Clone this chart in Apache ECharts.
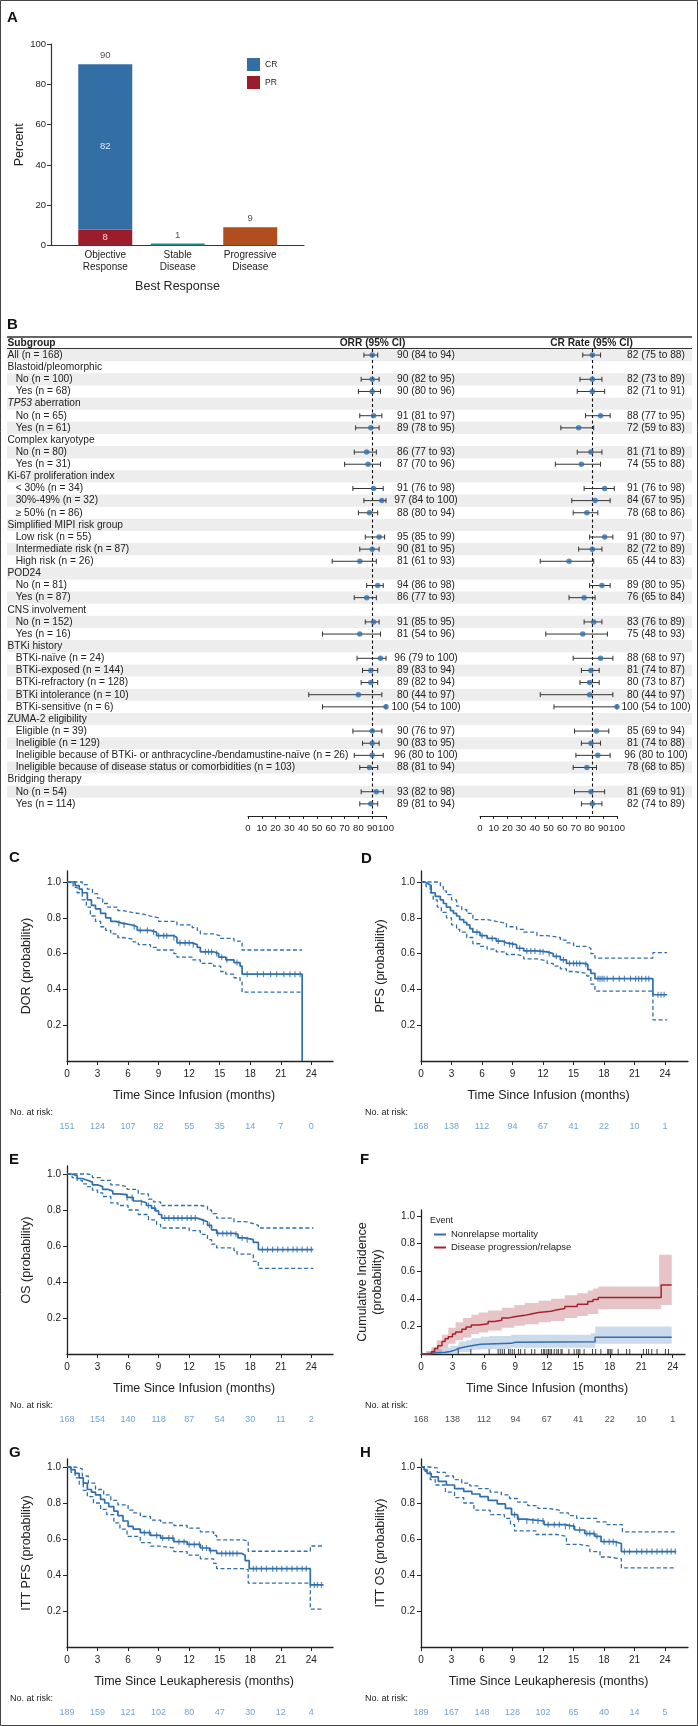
<!DOCTYPE html>
<html lang="en">
<head>
<meta charset="UTF-8">
<title>Response, DOR, PFS, OS and cumulative incidence</title>
<script src="https://cdn.jsdelivr.net/npm/echarts@6.0.0/dist/echarts.min.js"></script>
<style>
  html, body { margin: 0; padding: 0; background: #fff; }
  #chart { width: 698px; height: 1726px; }
</style>
</head>
<body>
<div id="chart"></div>
<script>
// ---------- data: panel A ----------
const responseCats = ['Objective\nResponse', 'Stable\nDisease', 'Progressive\nDisease'];
const prValues = [8, '-', '-'];
const crValues = [82, '-', '-'];
const otherValues = ['-', 1, 9];
const totalValues = [90, 1, 9];

// ---------- data: panel B (forest) ----------
const rowLabels = [
  'All (n = 168)', 'Blastoid/pleomorphic', 'No (n = 100)', 'Yes (n = 68)',
  'TP53 aberration', 'No (n = 65)', 'Yes (n = 61)',
  'Complex karyotype', 'No (n = 80)', 'Yes (n = 31)',
  'Ki-67 proliferation index', '< 30% (n = 34)', '30%-49% (n = 32)', '\u2265 50% (n = 86)',
  'Simplified MIPI risk group', 'Low risk (n = 55)', 'Intermediate risk (n = 87)', 'High risk (n = 26)',
  'POD24', 'No (n = 81)', 'Yes (n = 87)',
  'CNS involvement', 'No (n = 152)', 'Yes (n = 16)',
  'BTKi history', 'BTKi-na\u00efve (n = 24)', 'BTKi-exposed (n = 144)', 'BTKi-refractory (n = 128)',
  'BTKi intolerance (n = 10)', 'BTKi-sensitive (n = 6)',
  'ZUMA-2 eligibility', 'Eligible (n = 39)', 'Ineligible (n = 129)',
  'Ineligible because of BTKi- or anthracycline-/bendamustine-na\u00efve (n = 26)',
  'Ineligible because of disease status or comorbidities (n = 103)',
  'Bridging therapy', 'No (n = 54)', 'Yes (n = 114)'
];
const rowLevel = [0,0,1,1, 0,1,1, 0,1,1, 0,1,1,1, 0,1,1,1, 0,1,1, 0,1,1, 0,1,1,1,1,1, 0,1,1,1,1, 0,1,1];
const N = null;
const orrEst = [90,N,90,90, N,91,89, N,86,87, N,91,97,88, N,95,90,81, N,94,86, N,91,81, N,96,89,89,80,100, N,90,90,90,88, N,93,89];
const orrLo  = [84,N,82,80, N,81,78, N,77,70, N,76,84,80, N,85,81,61, N,86,77, N,85,54, N,79,83,82,44,54,  N,76,83,77,81, N,82,81];
const orrHi  = [94,N,95,96, N,97,95, N,93,96, N,98,100,94, N,99,95,93, N,98,93, N,95,96, N,100,94,94,97,100, N,97,95,98,94, N,98,94];
const orrText = ['90 (84 to 94)',N,'90 (82 to 95)','90 (80 to 96)', N,'91 (81 to 97)','89 (78 to 95)',
  N,'86 (77 to 93)','87 (70 to 96)', N,'91 (76 to 98)','97 (84 to 100)','88 (80 to 94)',
  N,'95 (85 to 99)','90 (81 to 95)','81 (61 to 93)', N,'94 (86 to 98)','86 (77 to 93)',
  N,'91 (85 to 95)','81 (54 to 96)', N,'96 (79 to 100)','89 (83 to 94)','89 (82 to 94)','80 (44 to 97)','100 (54 to 100)',
  N,'90 (76 to 97)','90 (83 to 95)','96 (80 to 100)','88 (81 to 94)', N,'93 (82 to 98)','89 (81 to 94)'];
const crEst = [82,N,82,82, N,88,72, N,81,74, N,91,84,78, N,91,82,65, N,89,76, N,83,75, N,88,81,80,80,100, N,85,81,86,78, N,81,82];
const crLo  = [75,N,73,71, N,77,59, N,71,55, N,76,67,68, N,80,72,44, N,80,65, N,76,48, N,68,74,73,44,54,  N,69,74,70,68, N,69,74];
const crHi  = [88,N,89,91, N,95,83, N,89,88, N,98,95,86, N,97,89,83, N,95,84, N,89,93, N,97,87,87,97,100, N,94,88,95,85, N,91,89];
const crText = ['82 (75 to 88)',N,'82 (73 to 89)','82 (71 to 91)', N,'88 (77 to 95)','72 (59 to 83)',
  N,'81 (71 to 89)','74 (55 to 88)', N,'91 (76 to 98)','84 (67 to 95)','78 (68 to 86)',
  N,'91 (80 to 97)','82 (72 to 89)','65 (44 to 83)', N,'89 (80 to 95)','76 (65 to 84)',
  N,'83 (76 to 89)','75 (48 to 93)', N,'88 (68 to 97)','81 (74 to 87)','80 (73 to 87)','80 (44 to 97)','100 (54 to 100)',
  N,'85 (69 to 94)','81 (74 to 88)','96 (80 to 100)','78 (68 to 85)', N,'81 (69 to 91)','82 (74 to 89)'];
const orrRef = 90;
const crRef = 82;

// ---------- data: KM panels ----------
const kmTicks = [0, 3, 6, 9, 12, 15, 18, 21, 24];
const probTicks = [0.2, 0.4, 0.6, 0.8, 1.0];

const dorEst = [[0,1],[0.8,0.98],[1.2,0.96],[1.5,0.94],[2.0,0.9],[2.4,0.87],[2.8,0.85],[3.3,0.825],[3.8,0.8],[4.3,0.78],[4.8,0.77],[5.4,0.76],[6.4,0.75],[6.9,0.73],[8.2,0.72],[8.8,0.7],[10.5,0.69],[10.8,0.66],[12.3,0.65],[12.8,0.635],[13.1,0.61],[14.4,0.6],[14.9,0.58],[15.6,0.565],[16.4,0.55],[17.0,0.53],[17.2,0.485],[23.1,0]];
const dorHi = [[0,1],[1.5,0.985],[2.0,0.96],[2.5,0.935],[3.0,0.91],[3.5,0.88],[4.0,0.86],[5.0,0.84],[5.5,0.83],[6.4,0.82],[7.5,0.81],[8.2,0.8],[9.0,0.78],[10.8,0.76],[12.3,0.745],[12.8,0.73],[13.1,0.71],[14.4,0.7],[15.0,0.685],[16.4,0.67],[17.2,0.62],[23.1,0.62]];
const dorLo = [[0,1],[0.6,0.97],[1.0,0.94],[1.5,0.9],[1.9,0.86],[2.3,0.81],[2.8,0.78],[3.3,0.75],[3.8,0.73],[4.3,0.71],[5.0,0.69],[5.5,0.68],[6.5,0.665],[7.0,0.65],[8.2,0.635],[8.8,0.62],[10.5,0.6],[10.8,0.58],[12.3,0.565],[13.1,0.545],[14.4,0.53],[15.1,0.5],[15.6,0.485],[16.4,0.465],[17.0,0.445],[17.2,0.385],[23.1,0.385]];
const dorCensor = [5.1,5.6,6.6,7.2,7.9,8.5,9.0,9.5,9.8,10.5,11.1,11.6,12.0,12.4,13.6,13.9,14.2,14.7,15.2,15.7,16.7,17.7,18.7,19.3,20.0,20.6,21.3,21.9,22.4,22.9];
const dorRisk = [151, 124, 107, 82, 55, 35, 14, 7, 0];

const pfsEst = [[0,1],[0.4,0.99],[0.7,0.98],[1.0,0.94],[1.4,0.92],[1.9,0.9],[2.2,0.88],[2.5,0.86],[2.9,0.84],[3.2,0.825],[3.5,0.81],[3.8,0.79],[4.2,0.775],[4.5,0.76],[4.8,0.74],[5.1,0.72],[5.8,0.7],[6.5,0.685],[7.4,0.67],[8.0,0.66],[8.4,0.65],[9.4,0.63],[10.1,0.615],[11.4,0.61],[12.4,0.6],[13.0,0.585],[13.7,0.565],[14.3,0.545],[16.0,0.54],[16.4,0.51],[16.7,0.49],[17.1,0.46],[22.8,0.37],[24.2,0.37]];
const pfsHi = [[0,1],[1.5,1],[1.9,0.975],[2.2,0.95],[2.5,0.93],[3.0,0.9],[3.5,0.865],[4.0,0.845],[4.5,0.825],[5.1,0.79],[6.5,0.78],[7.4,0.77],[8.4,0.75],[9.4,0.735],[10.1,0.72],[11.4,0.7],[12.4,0.69],[13.7,0.675],[14.3,0.66],[15.0,0.64],[16.3,0.63],[16.7,0.6],[17.1,0.575],[22.8,0.605],[24.2,0.605]];
const pfsLo = [[0,1],[0.5,0.975],[0.9,0.94],[1.2,0.9],[1.6,0.86],[2.0,0.83],[2.5,0.8],[3.0,0.76],[3.5,0.735],[3.8,0.72],[4.5,0.69],[5.1,0.655],[5.8,0.64],[6.5,0.625],[7.4,0.61],[8.4,0.595],[9.4,0.585],[10.1,0.57],[11.4,0.56],[12.4,0.545],[13.0,0.53],[13.7,0.515],[14.3,0.5],[15.0,0.49],[16.3,0.475],[16.7,0.43],[17.1,0.39],[22.8,0.23],[24.2,0.23]];
const pfsCensor = [5.5,6.0,7.0,7.6,8.2,8.7,9.0,9.7,10.4,10.8,11.2,11.7,12.0,12.6,13.3,14.0,14.6,15.0,15.3,15.6,16.2,17.4,17.6,17.8,18.0,18.3,18.9,19.5,20.0,20.6,21.1,21.4,21.7,22.1,22.4,23.3,23.6,23.9];
const pfsRisk = [168, 138, 112, 94, 67, 41, 22, 10, 1];

const osEst = [[0,1],[0.5,0.99],[1.0,0.975],[1.5,0.965],[2.0,0.955],[2.5,0.94],[3.0,0.93],[3.5,0.915],[4.0,0.905],[4.5,0.89],[5.0,0.885],[5.9,0.87],[6.5,0.85],[7.2,0.84],[7.8,0.825],[8.3,0.81],[8.7,0.795],[9.0,0.775],[9.3,0.755],[12.8,0.745],[13.3,0.735],[13.8,0.715],[14.2,0.69],[14.7,0.67],[16.4,0.665],[16.8,0.645],[17.5,0.635],[18.3,0.62],[18.8,0.58],[24.2,0.58]];
const osHi = [[0,1],[2.0,0.995],[2.5,0.98],[3.3,0.965],[4.3,0.94],[5.0,0.93],[5.9,0.915],[7.0,0.89],[8.0,0.86],[8.5,0.845],[9.2,0.825],[13.1,0.82],[13.8,0.8],[14.2,0.78],[14.7,0.755],[16.4,0.735],[17.5,0.725],[18.3,0.715],[18.8,0.7],[24.2,0.7]];
const osLo = [[0,1],[0.5,0.98],[1.0,0.965],[1.5,0.945],[2.0,0.93],[2.5,0.91],[3.0,0.895],[3.5,0.875],[4.3,0.84],[5.0,0.825],[6.0,0.8],[7.0,0.775],[8.0,0.745],[8.8,0.72],[9.2,0.7],[12.0,0.685],[13.1,0.665],[13.8,0.635],[14.2,0.61],[14.7,0.59],[16.4,0.575],[16.7,0.555],[18.3,0.515],[18.8,0.476],[24.2,0.476]];
const osCensor = [5.9,6.4,7.3,8.0,8.6,9.6,10.0,10.5,10.9,11.3,11.8,12.2,12.6,13.4,14.0,14.8,15.3,15.7,16.1,16.6,17.2,17.7,19.2,19.7,20.2,20.7,21.2,21.7,22.2,22.6,23.1,23.6,24.0];
const osRisk = [168, 154, 140, 118, 87, 54, 30, 11, 2];

const ittPfsEst = [[0,1],[0.4,0.985],[0.8,0.965],[1.2,0.94],[1.6,0.91],[2.0,0.875],[2.4,0.86],[2.8,0.845],[3.3,0.82],[3.7,0.8],[4.1,0.78],[4.6,0.755],[5.0,0.73],[5.5,0.7],[6.0,0.67],[6.5,0.655],[7.2,0.635],[8.2,0.62],[9.2,0.605],[10.5,0.585],[11.8,0.57],[13.1,0.55],[14.0,0.535],[14.7,0.52],[17.2,0.51],[17.5,0.48],[17.9,0.435],[23.9,0.345],[25.2,0.345]];
const ittPfsHi = [[0,1],[0.8,0.99],[1.5,0.95],[2.1,0.91],[2.8,0.875],[3.6,0.845],[4.3,0.815],[5.0,0.79],[6.0,0.76],[6.5,0.745],[7.2,0.725],[8.2,0.705],[9.2,0.69],[10.5,0.675],[11.8,0.66],[13.1,0.64],[14.4,0.62],[14.7,0.595],[17.2,0.59],[17.8,0.532],[23.9,0.561],[25.2,0.561]];
const ittPfsLo = [[0,1],[0.4,0.97],[0.8,0.94],[1.2,0.905],[1.6,0.87],[2.0,0.835],[2.6,0.8],[3.3,0.765],[3.9,0.735],[4.6,0.69],[5.2,0.655],[5.9,0.615],[7.2,0.58],[8.2,0.56],[9.2,0.55],[10.5,0.53],[11.8,0.51],[13.1,0.49],[14.4,0.465],[14.7,0.435],[17.2,0.43],[17.8,0.355],[23.9,0.21],[25.2,0.21]];
const ittPfsCensor = [7.6,8.1,8.8,9.4,10.0,10.4,11.0,11.5,12.0,12.5,13.0,13.3,13.7,14.1,15.2,15.6,16.0,16.3,16.7,18.3,18.6,19.1,19.6,20.2,20.6,21.1,21.6,22.1,22.6,23.1,23.5,24.3,24.6,25.0];
const ittPfsRisk = [189, 159, 121, 102, 80, 47, 30, 12, 4];

const ittOsEst = [[0,1],[0.3,0.985],[0.6,0.965],[1.0,0.945],[1.7,0.92],[2.5,0.9],[3.3,0.88],[4.2,0.865],[5.0,0.85],[5.8,0.835],[6.6,0.815],[7.5,0.795],[8.3,0.77],[8.9,0.735],[9.5,0.71],[10.2,0.7],[12.1,0.68],[14.1,0.67],[15.1,0.65],[16.1,0.63],[17.1,0.615],[17.7,0.585],[19.0,0.575],[19.7,0.53],[25.1,0.53]];
const ittOsHi = [[0,1],[0.8,0.995],[1.6,0.97],[2.4,0.95],[3.2,0.93],[4.0,0.91],[4.8,0.895],[5.6,0.88],[6.8,0.86],[7.9,0.845],[8.7,0.825],[9.5,0.805],[10.5,0.785],[11.5,0.77],[12.5,0.76],[13.6,0.745],[14.5,0.73],[15.3,0.715],[17.3,0.695],[18.3,0.68],[19.8,0.64],[25.1,0.64]];
const ittOsLo = [[0,1],[0.4,0.975],[0.9,0.93],[1.4,0.9],[2.4,0.86],[3.3,0.83],[4.2,0.8],[5.2,0.76],[6.8,0.735],[8.2,0.715],[8.8,0.68],[9.2,0.645],[11.3,0.625],[13.3,0.615],[14.3,0.57],[15.6,0.56],[16.6,0.53],[17.6,0.5],[18.4,0.49],[19.7,0.44],[25.1,0.44]];
const ittOsCensor = [9.2,9.6,10.4,11.0,11.5,12.0,12.5,13.1,13.6,14.2,14.6,15.0,15.6,16.3,16.6,17.0,17.3,18.0,18.5,18.9,19.2,20.0,20.5,21.2,21.7,22.2,22.7,23.2,23.7,24.2,24.6,25.0];
const ittOsRisk = [189, 167, 148, 128, 102, 65, 40, 14, 5];

// panel F: cumulative incidence
const relapseEst = [[0,0],[1.0,0.017],[1.3,0.04],[1.6,0.06],[2.0,0.09],[2.3,0.11],[2.6,0.125],[3.0,0.145],[3.3,0.16],[3.9,0.18],[4.3,0.195],[4.8,0.21],[5.5,0.22],[6.4,0.235],[7.0,0.245],[7.7,0.26],[8.3,0.27],[8.9,0.28],[9.9,0.29],[10.5,0.3],[11.2,0.31],[12.4,0.32],[13.0,0.33],[13.7,0.345],[14.9,0.36],[15.9,0.38],[16.4,0.395],[16.9,0.41],[22.9,0.5],[23.9,0.5]];
const relapseHi = [[0,0],[0.5,0.02],[1.0,0.05],[1.5,0.1],[2.0,0.14],[2.6,0.19],[3.3,0.23],[4.0,0.26],[4.8,0.285],[5.5,0.3],[6.4,0.315],[7.7,0.335],[8.9,0.355],[9.9,0.37],[11.2,0.385],[12.4,0.4],[13.7,0.425],[14.9,0.44],[15.9,0.46],[16.4,0.475],[16.9,0.49],[22.7,0.72],[23.9,0.72]];
const relapseLo = [[0,0],[1.3,0.005],[2.0,0.045],[2.6,0.075],[3.3,0.1],[4.0,0.12],[4.8,0.145],[5.5,0.155],[6.4,0.17],[7.7,0.19],[8.9,0.205],[9.9,0.215],[11.2,0.23],[12.4,0.24],[13.7,0.26],[14.9,0.275],[15.9,0.29],[16.9,0.325],[22.9,0.355],[23.9,0.355]];
const nrmEst = [[0,0],[0.6,0.006],[1.0,0.012],[2.3,0.018],[2.8,0.03],[3.3,0.042],[3.6,0.053],[4.3,0.06],[4.8,0.07],[5.7,0.077],[8.6,0.085],[9.0,0.089],[16.6,0.121],[23.9,0.121]];
const nrmHi = [[0,0],[0.5,0.02],[1.0,0.035],[2.0,0.045],[2.8,0.06],[3.6,0.09],[4.3,0.1],[4.8,0.115],[5.7,0.125],[6.5,0.13],[8.6,0.14],[16.2,0.15],[16.6,0.2],[23.9,0.2]];
const nrmLo = [[0,0],[2.8,0.005],[3.6,0.015],[4.8,0.03],[5.7,0.035],[8.6,0.045],[16.6,0.075],[23.9,0.075]];
const cifCensor = [3.55,4.75,6.5,7.35,7.55,7.75,7.95,8.35,8.5,8.7,8.9,9.3,9.5,9.9,10.55,10.85,11.5,11.7,11.8,12.0,12.15,12.3,12.45,12.7,12.95,13.1,13.35,13.45,14.1,14.6,14.85,15.0,15.15,15.55,16.35,16.65,17.15,17.8,17.9,18.05,18.2,18.8,19.6,19.9,21.2,21.5,21.7,22.0,22.5,23.3,23.6];
const cifRisk = [168, 138, 112, 94, 67, 41, 22, 10, 1];

// ---------- styles ----------
const FONT = '"Liberation Sans", Arial, Helvetica, sans-serif';
const INK = '#222';
const KM_BLUE = '#2f6fad';
const RISK_BLUE = '#4d8bc8';
const TABLE_FS = 10.2;
const otherColors = [null, '#1c8a8b', '#b04e1e'];

const chart = echarts.init(document.getElementById('chart'));
const grids = [], xAxes = [], yAxes = [], series = [], graphics = [];

function addGrid(g) {
  grids.push(Object.assign({ outerBoundsMode: 'none', containLabel: false }, g));
  return grids.length - 1;
}
function txt(text, x, y, opt) {
  graphics.push({ type: 'text', x: x, y: y, silent: true,
    style: Object.assign({ text: text, fontFamily: FONT, fontSize: 10, fill: INK, align: 'left', verticalAlign: 'middle' }, opt || {}) });
}
function stepAt(curve, t) {
  let v = curve[0][1];
  for (const p of curve) { if (p[0] <= t) v = p[1]; else break; }
  return v;
}
function stepPts(api, curve) {
  const pts = [];
  curve.forEach((p, i) => {
    pts.push(api.coord([p[0], p[1]]));
    if (i < curve.length - 1) pts.push(api.coord([curve[i + 1][0], p[1]]));
  });
  return pts;
}

// ---------- panel A ----------
const gA = addGrid({ left: 51, top: 44, width: 253, height: 201.5 });
xAxes.push({ gridIndex: gA, type: 'value', min: 0, max: 1,
  axisLine: { show: true, lineStyle: { color: '#333', width: 1.2 } }, axisTick: { show: false },
  axisLabel: { show: false }, splitLine: { show: false },
  name: 'Best Response', nameLocation: 'middle', nameGap: 35,
  nameTextStyle: { fontFamily: FONT, fontSize: 12.5, color: INK } });
yAxes.push({ gridIndex: gA, type: 'value', min: 0, max: 100, interval: 20,
  axisLine: { show: true, lineStyle: { color: '#333', width: 1.2 } },
  axisTick: { show: true, length: 4, lineStyle: { color: '#333' } },
  axisLabel: { fontFamily: FONT, fontSize: 9.5, color: INK, margin: 5 }, splitLine: { show: false },
  name: 'Percent', nameLocation: 'middle', nameGap: 24,
  nameTextStyle: { fontFamily: FONT, fontSize: 12.5, color: INK } });

const gA2 = addGrid({ left: 69, top: 44, width: 217.5, height: 201.5 });
xAxes.push({ gridIndex: gA2, type: 'category', data: responseCats,
  axisLine: { show: false }, axisTick: { show: false },
  axisLabel: { fontFamily: FONT, fontSize: 10, lineHeight: 12, color: INK, margin: 4 } });
yAxes.push({ gridIndex: gA2, type: 'value', min: 0, max: 100, show: false });

series.push({ type: 'bar', name: 'PR', xAxisIndex: gA2, yAxisIndex: gA2, stack: 'resp', barWidth: 54,
  data: prValues, itemStyle: { color: '#9b1c2a' },
  label: { show: true, position: 'inside', color: '#f5dada', fontFamily: FONT, fontSize: 9.5 } });
series.push({ type: 'bar', name: 'CR', xAxisIndex: gA2, yAxisIndex: gA2, stack: 'resp', barWidth: 54,
  data: crValues, itemStyle: { color: '#336ea4' },
  label: { show: true, position: 'inside', color: '#dfe8f2', fontFamily: FONT, fontSize: 9.5 } });
series.push({ type: 'bar', name: 'other', xAxisIndex: gA2, yAxisIndex: gA2, stack: 'resp', barWidth: 54,
  data: otherValues.map((v, i) => ({ value: v, itemStyle: { color: otherColors[i] || '#999' } })) });
series.push({ type: 'scatter', xAxisIndex: gA2, yAxisIndex: gA2, symbolSize: 1, itemStyle: { color: 'transparent' },
  data: totalValues.map((v, i) => [i, v]), z: 5,
  label: { show: true, position: 'top', distance: 3, formatter: p => p.value[1], fontFamily: FONT, fontSize: 9.5, color: INK } });

// ---------- panel B ----------
const ROWS_TOP = 349, ROWS_H = 467;
const rowAxis = gi => ({ gridIndex: gi, type: 'value', min: -0.5, max: 38, inverse: true, show: false });

const gT = addGrid({ left: 7, top: ROWS_TOP, width: 685, height: ROWS_H });
xAxes.push({ gridIndex: gT, type: 'value', min: 0, max: 685, show: false });
yAxes.push(rowAxis(gT));
series.push({ type: 'custom', xAxisIndex: gT, yAxisIndex: gT, silent: true, z: 0,
  data: rowLabels.map((_, i) => [0, i]).filter(d => d[1] % 2 === 0), encode: { x: 0, y: 1 },
  renderItem: (params, api) => {
    const i = api.value(1);
    const a = api.coord([0, i - 0.5]), b = api.coord([685, i + 0.5]);
    return { type: 'rect', shape: { x: a[0], y: a[1], width: b[0] - a[0], height: b[1] - a[1] }, style: { fill: '#ededed' } };
  } });
series.push({ type: 'custom', xAxisIndex: gT, yAxisIndex: gT, silent: true, z: 2,
  data: rowLabels.map((_, i) => [rowLevel[i] ? 8.7 : 0.5, i]), encode: { x: 0, y: 1 },
  renderItem: (params, api) => {
    const i = api.value(1), p = api.coord([api.value(0), i]);
    let label = rowLabels[i];
    const style = { fontFamily: FONT, fontSize: TABLE_FS, fill: INK, align: 'left', verticalAlign: 'middle' };
    if (label.indexOf('TP53') === 0) {
      label = '{i|TP53}' + label.slice(4);
      style.rich = { i: { fontStyle: 'italic', fontFamily: FONT, fontSize: TABLE_FS, fill: INK } };
    }
    style.text = label;
    return { type: 'text', x: p[0], y: p[1], style: style };
  } });
[[orrText, 419], [crText, 649]].forEach(([texts, cx]) => {
  series.push({ type: 'custom', xAxisIndex: gT, yAxisIndex: gT, silent: true, z: 2,
    data: texts.map((t, i) => [cx, i]).filter(d => texts[d[1]] !== null), encode: { x: 0, y: 1 },
    renderItem: (params, api) => {
      const i = api.value(1), p = api.coord([api.value(0), i]);
      return { type: 'text', x: p[0], y: p[1],
        style: { text: texts[i], fontFamily: FONT, fontSize: TABLE_FS, fill: INK, align: 'center', verticalAlign: 'middle' } };
    } });
});

function forest(left, width, est, lo, hi, ref) {
  const gi = addGrid({ left: left, top: ROWS_TOP, width: width, height: ROWS_H });
  xAxes.push({ gridIndex: gi, type: 'value', min: 0, max: 100, interval: 10, position: 'bottom',
    axisLine: { show: true, onZero: false, lineStyle: { color: INK, width: 1 } },
    axisTick: { show: true, length: 3, lineStyle: { color: INK } },
    axisLabel: { fontFamily: FONT, fontSize: 9.5, color: INK, margin: 7, hideOverlap: false },
    splitLine: { show: false } });
  yAxes.push(rowAxis(gi));
  const idx = est.map((v, i) => i).filter(i => est[i] !== null);
  series.push({ type: 'custom', xAxisIndex: gi, yAxisIndex: gi, silent: true, z: 3,
    data: idx.map(i => [lo[i], hi[i], i]), encode: { x: [0, 1], y: 2 },
    renderItem: (params, api) => {
      const a = api.coord([api.value(0), api.value(2)]), b = api.coord([api.value(1), api.value(2)]);
      const y = a[1], st = { stroke: '#333', lineWidth: 1 };
      return { type: 'group', children: [
        { type: 'line', shape: { x1: a[0], y1: y, x2: b[0], y2: y }, style: st },
        { type: 'line', shape: { x1: a[0], y1: y - 2.5, x2: a[0], y2: y + 2.5 }, style: st },
        { type: 'line', shape: { x1: b[0], y1: y - 2.5, x2: b[0], y2: y + 2.5 }, style: st }
      ] };
    } });
  series.push({ type: 'scatter', xAxisIndex: gi, yAxisIndex: gi, z: 5, symbolSize: 5.5,
    itemStyle: { color: KM_BLUE }, data: idx.map(i => [est[i], i]),
    markLine: { silent: true, symbol: ['none', 'none'], data: [{ xAxis: ref }], label: { show: false },
      lineStyle: { color: '#111', type: [3, 2.5], width: 1.1 }, z: 2 } });
}
forest(248, 138, orrEst, orrLo, orrHi, orrRef);
forest(480, 137, crEst, crLo, crHi, crRef);

graphics.push({ type: 'line', silent: true, shape: { x1: 7, y1: 337, x2: 692, y2: 337 }, style: { stroke: '#333', lineWidth: 1.6 } });
graphics.push({ type: 'line', silent: true, shape: { x1: 7, y1: 348.5, x2: 692, y2: 348.5 }, style: { stroke: '#333', lineWidth: 1 } });
txt('Subgroup', 7.5, 343, { fontWeight: 'bold', fontSize: TABLE_FS });
txt('ORR (95% CI)', 372.5, 343, { fontWeight: 'bold', align: 'center', fontSize: TABLE_FS });
txt('CR Rate (95% CI)', 591.5, 343, { fontWeight: 'bold', align: 'center', fontSize: TABLE_FS });

// ---------- KM panels ----------
function kmAxes(gi, p) {
  xAxes.push({ gridIndex: gi, type: 'value', min: 0, max: p.xMax,
    axisLine: { show: true, onZero: false, lineStyle: { color: INK, width: 1.3 } },
    axisTick: { show: true, length: 4, customValues: kmTicks, lineStyle: { color: INK } },
    axisLabel: { customValues: kmTicks, fontFamily: FONT, fontSize: 10, color: INK, margin: 8 },
    splitLine: { show: false },
    name: p.xTitle, nameLocation: 'middle', nameGap: 28,
    nameTextStyle: { fontFamily: FONT, fontSize: 12.5, color: INK, padding: [0, 12, 0, 0] } });
  yAxes.push({ gridIndex: gi, type: 'value', min: 0, max: p.yMax,
    axisLine: { show: true, lineStyle: { color: INK, width: 1.3 } },
    axisTick: { show: true, length: 4, customValues: probTicks, lineStyle: { color: INK } },
    axisLabel: { customValues: probTicks, formatter: v => v.toFixed(1), fontFamily: FONT, fontSize: 10, color: INK, margin: 6 },
    splitLine: { show: false },
    name: p.yTitle, nameLocation: 'middle', nameGap: p.yGap,
    nameTextStyle: { fontFamily: FONT, fontSize: 12.5, color: INK, lineHeight: 15 } });
}
function riskRow(p, risk, color) {
  const gi = addGrid({ left: p.left, top: p.riskY - 5, width: p.width, height: 10 });
  xAxes.push({ gridIndex: gi, type: 'value', min: 0, max: p.xMax, show: false });
  yAxes.push({ gridIndex: gi, type: 'value', min: -1, max: 1, show: false });
  series.push({ type: 'scatter', xAxisIndex: gi, yAxisIndex: gi, symbolSize: 1, silent: true,
    itemStyle: { color: 'transparent' }, data: kmTicks.map((t, i) => [t, 0, risk[i]]),
    label: { show: true, position: 'inside', formatter: q => q.value[2], fontFamily: FONT, fontSize: 9, color: color } });
  txt('No. at risk:', p.riskLabelX, p.riskY - 14, { fontSize: 9 });
}
const dashed = { color: KM_BLUE, width: 1.3, type: [4, 2.5] };
const kmPanels = [
  { left: 67, top: 871, width: 266, height: 190, xMax: 26.13, yMax: 1.0615, yGap: 33, riskY: 1127, riskLabelX: 10,
    xTitle: 'Time Since Infusion (months)', yTitle: 'DOR (probability)', est: dorEst, hi: dorHi, lo: dorLo, censor: dorCensor, risk: dorRisk },
  { left: 421, top: 871, width: 267, height: 190, xMax: 26.25, yMax: 1.0615, yGap: 33, riskY: 1127, riskLabelX: 365,
    xTitle: 'Time Since Infusion (months)', yTitle: 'PFS (probability)', est: pfsEst, hi: pfsHi, lo: pfsLo, censor: pfsCensor, risk: pfsRisk },
  { left: 67, top: 1166, width: 266, height: 188, xMax: 26.13, yMax: 1.0444, yGap: 33, riskY: 1420, riskLabelX: 10,
    xTitle: 'Time Since Infusion (months)', yTitle: 'OS (probability)', est: osEst, hi: osHi, lo: osLo, censor: osCensor, risk: osRisk },
  { left: 67, top: 1459, width: 266, height: 188, xMax: 26.13, yMax: 1.0444, yGap: 33, riskY: 1713, riskLabelX: 10,
    xTitle: 'Time Since Leukapheresis (months)', yTitle: 'ITT PFS (probability)', est: ittPfsEst, hi: ittPfsHi, lo: ittPfsLo, censor: ittPfsCensor, risk: ittPfsRisk },
  { left: 421, top: 1459, width: 267, height: 188, xMax: 26.25, yMax: 1.0444, yGap: 33, riskY: 1713, riskLabelX: 365,
    xTitle: 'Time Since Leukapheresis (months)', yTitle: 'ITT OS (probability)', est: ittOsEst, hi: ittOsHi, lo: ittOsLo, censor: ittOsCensor, risk: ittOsRisk }
];
kmPanels.forEach(p => {
  const gi = addGrid({ left: p.left, top: p.top, width: p.width, height: p.height });
  kmAxes(gi, p);
  [p.hi, p.lo].forEach(c => series.push({ type: 'line', step: 'end', xAxisIndex: gi, yAxisIndex: gi, data: c,
    symbol: 'none', silent: true, lineStyle: dashed, z: 2 }));
  series.push({ type: 'line', step: 'end', xAxisIndex: gi, yAxisIndex: gi, data: p.est,
    symbol: 'none', silent: true, lineStyle: { color: KM_BLUE, width: 1.7 }, z: 3 });
  series.push({ type: 'scatter', xAxisIndex: gi, yAxisIndex: gi, silent: true, z: 4,
    symbol: 'rect', symbolSize: [1.2, 6], itemStyle: { color: KM_BLUE },
    data: p.censor.map(t => [t, stepAt(p.est, t)]) });
  riskRow(p, p.risk, RISK_BLUE);
});

// panel F
const pF = { left: 421, top: 1210, width: 264, height: 144, xMax: 25.17, yMax: 1.0435, yGap: 36, riskY: 1420, riskLabelX: 365,
  xTitle: 'Time Since Infusion (months)', yTitle: 'Cumulative Incidence\n(probability)' };
const gF = addGrid({ left: pF.left, top: pF.top, width: pF.width, height: pF.height });
kmAxes(gF, pF);
[[nrmHi, nrmLo, 'rgba(120,160,205,0.38)'], [relapseHi, relapseLo, 'rgba(178,70,82,0.32)']].forEach(([hi, lo, fill]) => {
  series.push({ type: 'custom', xAxisIndex: gF, yAxisIndex: gF, silent: true, z: 1, data: [[0, 0]],
    renderItem: (params, api) => ({ type: 'polygon',
      shape: { points: stepPts(api, hi).concat(stepPts(api, lo).reverse()) }, style: { fill: fill } }) });
});
series.push({ type: 'line', name: 'Nonrelapse mortality', step: 'end', xAxisIndex: gF, yAxisIndex: gF, data: nrmEst,
  symbol: 'none', silent: true, itemStyle: { color: '#2f6fad' }, lineStyle: { color: '#2f6fad', width: 1.5 }, z: 3 });
series.push({ type: 'line', name: 'Disease progression/relapse', step: 'end', xAxisIndex: gF, yAxisIndex: gF, data: relapseEst,
  symbol: 'none', silent: true, itemStyle: { color: '#a8222d' }, lineStyle: { color: '#a8222d', width: 1.5 }, z: 3 });
series.push({ type: 'scatter', xAxisIndex: gF, yAxisIndex: gF, silent: true, z: 4,
  symbol: 'rect', symbolSize: [1, 5], symbolOffset: [0, -2.5], itemStyle: { color: '#111' },
  data: cifCensor.map(t => [t, 0]) });
riskRow(pF, cifRisk, INK);
txt('Event', 430, 1221, { fontSize: 9 });

// panel letters and frame
[['A', 7, 18], ['B', 7, 325], ['C', 9, 858], ['D', 361, 859], ['E', 9, 1160], ['F', 360, 1160], ['G', 9, 1453], ['H', 360, 1453]]
  .forEach(([l, x, y]) => txt(l, x, y, { fontSize: 15, fontWeight: 'bold', fill: '#111' }));
graphics.push({ type: 'rect', silent: true, shape: { x: 0.5, y: 0.5, width: 697, height: 1725 },
  style: { fill: 'none', stroke: '#444', lineWidth: 1 } });

chart.setOption({
  animation: false,
  backgroundColor: '#fff',
  textStyle: { fontFamily: FONT },
  grid: grids,
  xAxis: xAxes,
  yAxis: yAxes,
  legend: [
    { data: ['CR', 'PR'], left: 247, top: 58, orient: 'vertical', padding: 0, itemWidth: 13, itemHeight: 13, itemGap: 5,
      icon: 'rect', selectedMode: false, textStyle: { fontFamily: FONT, fontSize: 8.5, color: INK } },
    { data: ['Nonrelapse mortality', 'Disease progression/relapse'], left: 434, top: 1229, orient: 'vertical', padding: 0,
      itemWidth: 12, itemHeight: 2, itemGap: 2, icon: 'rect', selectedMode: false,
      textStyle: { fontFamily: FONT, fontSize: 9.5, color: INK, lineHeight: 11 } }
  ],
  graphic: { elements: graphics },
  series: series
});
</script>
</body>
</html>
